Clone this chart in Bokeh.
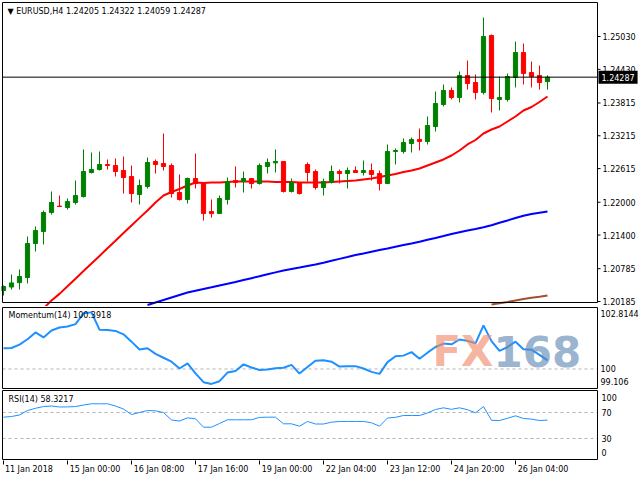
import numpy as np
from bokeh.plotting import figure
from bokeh.layouts import column
from bokeh.core.properties import value
from bokeh.models import (Range1d, LinearAxis, FixedTicker, Label,
                          ColumnDataSource, BoxAnnotation)
from bokeh.embed import file_html
from bokeh.resources import INLINE

# ---------------- data ----------------
symbol = "EURUSD,H4"
opens = [1.20386, 1.20450, 1.20530, 1.20624, 1.21246, 1.21465, 1.21812, 1.21930, 1.21903, 1.21995,
         1.22105, 1.22544, 1.22599, 1.22690, 1.22672, 1.22580, 1.22471, 1.22141, 1.22288, 1.22745,
         1.22708, 1.22672, 1.22178, 1.22050, 1.22434, 1.22361, 1.21830, 1.21793, 1.22050, 1.22397,
         1.22379, 1.22434, 1.22342, 1.22653, 1.22720, 1.22745, 1.22196, 1.22361, 1.22690, 1.22562,
         1.22269, 1.22361, 1.22562, 1.22525, 1.22580, 1.22544, 1.22580, 1.22525, 1.22342, 1.22928,
         1.22928, 1.23074, 1.23148, 1.23111, 1.23385, 1.23787, 1.24043, 1.23915, 1.24317, 1.24189,
         1.24006, 1.25048, 1.23879, 1.23879, 1.24281, 1.24738, 1.24372, 1.24317, 1.24205]
highs = [1.20478, 1.20679, 1.20771, 1.21374, 1.21557, 1.21848, 1.22196, 1.22123, 1.22068, 1.22397,
         1.22965, 1.22910, 1.22928, 1.22782, 1.22800, 1.22836, 1.22672, 1.22416, 1.22818, 1.22782,
         1.23257, 1.22708, 1.22507, 1.22452, 1.22891, 1.22370, 1.22050, 1.22123, 1.22452, 1.22653,
         1.22562, 1.22440, 1.22708, 1.22800, 1.22965, 1.22750, 1.22434, 1.22365, 1.22727, 1.22599,
         1.22434, 1.22672, 1.22599, 1.22635, 1.22653, 1.22763, 1.22708, 1.22580, 1.23056, 1.22983,
         1.23166, 1.23184, 1.23348, 1.23568, 1.24025, 1.24153, 1.24098, 1.24390, 1.24591, 1.24335,
         1.25377, 1.25067, 1.24299, 1.24354, 1.24939, 1.24902, 1.24573, 1.24500, 1.24322]
lows = [1.20295, 1.20405, 1.20405, 1.20515, 1.21100, 1.21228, 1.21775, 1.21915, 1.21866, 1.21958,
        1.22086, 1.22525, 1.22580, 1.22599, 1.22471, 1.22160, 1.21995, 1.21958, 1.22251, 1.22525,
        1.22580, 1.22086, 1.22031, 1.21976, 1.22251, 1.21665, 1.21720, 1.21785, 1.21958, 1.22269,
        1.22178, 1.22251, 1.22324, 1.22525, 1.22544, 1.22178, 1.22178, 1.22141, 1.22379, 1.22233,
        1.22123, 1.22342, 1.22342, 1.22251, 1.22540, 1.22489, 1.22397, 1.22214, 1.22335, 1.22690,
        1.22891, 1.22910, 1.22946, 1.23056, 1.23293, 1.23751, 1.23879, 1.23824, 1.24061, 1.23879,
        1.23970, 1.23641, 1.23677, 1.23842, 1.24098, 1.24153, 1.24098, 1.24061, 1.24059]
closes = [1.20460, 1.20525, 1.20643, 1.21246, 1.21484, 1.21812, 1.21995, 1.21922, 1.22013, 1.22123,
          1.22562, 1.22599, 1.22690, 1.22672, 1.22562, 1.22452, 1.22160, 1.22306, 1.22727, 1.22690,
          1.22653, 1.22160, 1.22050, 1.22434, 1.22342, 1.21793, 1.21793, 1.22068, 1.22379, 1.22361,
          1.22434, 1.22342, 1.22672, 1.22727, 1.22745, 1.22196, 1.22361, 1.22160, 1.22544, 1.22269,
          1.22379, 1.22562, 1.22525, 1.22580, 1.22544, 1.22580, 1.22507, 1.22342, 1.22928, 1.22946,
          1.23092, 1.23148, 1.23111, 1.23403, 1.23806, 1.24043, 1.23915, 1.24317, 1.24171, 1.24006,
          1.25030, 1.23897, 1.23915, 1.24299, 1.24738, 1.24354, 1.24299, 1.24189, 1.24287]

ma_red = [None] * 5 + [
    1.20058, 1.20204, 1.20325, 1.20464, 1.20603, 1.20742, 1.20880, 1.21019, 1.21158, 1.21297,
    1.21436, 1.21575, 1.21714, 1.21849, 1.21996, 1.22123, 1.22187, 1.22242, 1.22306, 1.22361,
    1.22352, 1.22361, 1.22361, 1.22370, 1.22379, 1.22379, 1.22379, 1.22379, 1.22379, 1.22370,
    1.22370, 1.22370, 1.22361, 1.22361, 1.22361, 1.22361, 1.22370, 1.22379, 1.22388, 1.22397,
    1.22416, 1.22434, 1.22461, 1.22489, 1.22516, 1.22553, 1.22580, 1.22617, 1.22672, 1.22727,
    1.22782, 1.22855, 1.22946, 1.23056, 1.23138, 1.23257, 1.23330, 1.23385, 1.23476, 1.23568,
    1.23677, 1.23741, 1.23833, 1.23933]
ma_blue = [None] * 18 + [
    1.20122, 1.20168, 1.20213, 1.20259, 1.20305, 1.20350, 1.20383, 1.20414, 1.20445, 1.20478,
    1.20509, 1.20542, 1.20577, 1.20612, 1.20647, 1.20683, 1.20718, 1.20752, 1.20780, 1.20807,
    1.20835, 1.20862, 1.20893, 1.20930, 1.20965, 1.20999, 1.21034, 1.21063, 1.21094, 1.21125,
    1.21155, 1.21186, 1.21217, 1.21246, 1.21279, 1.21314, 1.21348, 1.21383, 1.21420, 1.21451,
    1.21482, 1.21511, 1.21542, 1.21579, 1.21625, 1.21667, 1.21712, 1.21752, 1.21785, 1.21809,
    1.21831]
ma_brown = [None] * 61 + [1.20131, 1.20155, 1.20177, 1.20204, 1.20230, 1.20253, 1.20273, 1.20295]

momentum = [100.951, 100.960, 101.116, 101.362, 101.675, 101.443, 101.764, 101.898, 101.943, 102.055,
            102.546, 102.591, 101.800, 101.787, 101.742, 101.586, 101.251, 100.893, 100.951, 100.692,
            100.513, 100.334, 100.022, 100.254, 99.799, 99.396, 99.316, 99.441, 99.835, 99.910,
            100.210, 100.067, 99.955, 99.977, 100.031, 100.058, 100.187, 99.790, 100.089, 100.380,
            100.402, 100.334, 100.111, 100.120, 100.129, 100.022, 99.866, 99.776, 100.312, 100.580,
            100.611, 100.772, 100.468, 100.746, 101.004, 101.161, 101.130, 101.349, 101.286, 101.175,
            101.997, 101.273, 100.826, 101.004, 101.251, 100.907, 100.880, 100.647, 100.392]
rsi = [62.8, 63.8, 66.2, 73.1, 76.5, 79.2, 80.0, 78.5, 78.6, 79.2,
       81.5, 83.4, 83.4, 83.4, 80.0, 75.4, 66.9, 70.0, 73.1, 72.6,
       70.0, 58.5, 56.9, 61.8, 60.3, 47.4, 47.4, 53.1, 58.8, 58.8,
       58.8, 58.8, 62.5, 62.8, 62.8, 52.6, 52.6, 48.9, 56.2, 52.3,
       52.3, 55.1, 56.2, 56.2, 56.2, 56.2, 54.2, 48.9, 61.5, 62.6,
       65.4, 65.4, 65.4, 69.2, 74.6, 77.2, 74.9, 77.2, 74.3, 69.5,
       79.2, 58.0, 57.7, 61.1, 64.9, 60.8, 59.8, 57.7, 58.3]

price_ticks = [1.20185, 1.20785, 1.21400, 1.22000, 1.22615, 1.23215, 1.23815, 1.24430, 1.25030]
mom_label_text = ["102.8144", "100", "99.106"]
rsi_levels = [70, 30]
rsi_label_text = ["100", "70", "30", "0"]
momentum_title = "Momentum(14) 100.3918"
rsi_title = "RSI(14) 58.3217"
date_tick_bars = [0, 8, 16, 24, 32, 40, 48, 56, 64]
date_tick_labels = ["11 Jan 2018", "15 Jan 00:00", "16 Jan 08:00", "17 Jan 16:00", "19 Jan 00:00",
                    "22 Jan 04:00", "23 Jan 12:00", "24 Jan 20:00", "26 Jan 04:00"]

# ---------------- layout constants ----------------
FONT = "DejaVu Sans"
FS = "8px"
TOTAL_W = 640
PX_PER_BAR = 8.0
UP, DOWN = "#008000", "#FF0000"
GRID_GREY = "#B4B4B4"

n = len(closes)
xs = list(range(n))

# every panel: drawing frame 1..640 px wide; the visible chart box is 2..597 px
box_left, box_right = -0.125, 74.25
x_full = Range1d(box_left - 1 / PX_PER_BAR, box_right + (TOTAL_W - 597) / PX_PER_BAR)

# price panel: frame 1..306 px, box 2..302 px
box_lo, box_hi = 1.20167, 1.25652
ppp = (box_hi - box_lo) / 300.0
y1_range = Range1d(box_lo - 4 * ppp, box_hi + 1 * ppp)

# momentum panel: frame 306..389 px, box 307..388 px
mom_lo, mom_hi = 99.106, 102.8144
ppm = (mom_hi - mom_lo) / 81.0
y2_range = Range1d(mom_lo - ppm, mom_hi + ppm)

# RSI panel: frame 389..460 px, box 390..459 px
rsi_lo, rsi_hi = -2.31, 103.85
ppr = (rsi_hi - rsi_lo) / 69.0
y3_range = Range1d(rsi_lo - ppr, rsi_hi + ppr)


def make_fig(yr, top, frame_h, bottom, lo, hi):
    p = figure(width=TOTAL_W, height=top + frame_h + bottom, x_range=x_full, y_range=yr,
               output_backend="svg", toolbar_location=None,
               x_axis_location=None, y_axis_location=None,
               min_border_left=1, min_border_right=0,
               min_border_top=top, min_border_bottom=bottom)
    p.grid.visible = False
    p.outline_line_color = None
    p.background_fill_color = "white"
    p.border_fill_color = "white"
    p.add_layout(BoxAnnotation(left=box_left, right=box_right, bottom=lo, top=hi,
                               fill_color=None, line_color="black", line_width=1, line_alpha=1.0))
    return p


def style_axis(ax, tick_out=0, standoff=2):
    ax.major_label_text_font = FONT
    ax.major_label_text_font_size = FS
    ax.major_label_text_color = "black"
    ax.major_tick_out = tick_out
    ax.major_tick_in = 0
    ax.minor_tick_out = 0
    ax.minor_tick_in = 0
    ax.major_tick_line_color = "black"
    ax.axis_line_color = None
    ax.major_label_standoff = standoff


def corner_label(p, y, text, dx, dy):
    p.add_layout(Label(x=box_left, y=y, x_offset=dx, y_offset=-dy,
                       text=text, text_font=FONT, text_font_size=FS, text_color="black",
                       text_baseline="top", text_align="left"))


def level_lines(p, levels, color, dash):
    p.segment(x0=[box_left] * len(levels), y0=levels, x1=[box_right] * len(levels), y1=levels,
              line_color=color, line_width=1, line_dash=dash)


def right_scale(p, ticks, labels, standoff):
    ax = LinearAxis(fixed_location=box_right, ticker=FixedTicker(ticks=ticks),
                    major_label_overrides=dict(zip(ticks, labels)))
    style_axis(ax, tick_out=0, standoff=standoff)
    p.add_layout(ax, "right")


# ---------------- main price panel ----------------
p1 = make_fig(y1_range, 1, 305, 0, box_lo, box_hi)

colors = [UP if c >= o else DOWN for o, c in zip(opens, closes)]
src = ColumnDataSource(dict(x=xs, open=opens, high=highs, low=lows, close=closes,
                            top=[max(o, c) for o, c in zip(opens, closes)],
                            bottom=[min(o, c) for o, c in zip(opens, closes)],
                            color=colors))
p1.line(xs, np.array(ma_brown, dtype=float), line_color="#A0522D", line_width=2)
p1.line(xs, np.array(ma_blue, dtype=float), line_color="#0000FF", line_width=2)
p1.line(xs, np.array(ma_red, dtype=float), line_color="#FF0000", line_width=2)
p1.segment(x0="x", y0="low", x1="x", y1="high", line_color="color", line_width=1, source=src)
p1.vbar(x="x", width=0.52, top="top", bottom="bottom", fill_color="color",
        line_color="color", line_width=1, source=src)
level_lines(p1, [closes[-1]], "black", "solid")

# price scale at the right edge of the chart box: tick marks and labels
scale_src = ColumnDataSource(dict(x=[box_right] * len(price_ticks), y=price_ticks,
                                  label=[f"{t:.5f}" for t in price_ticks]))
p1.ray(x="x", y="y", length=3, length_units="screen", angle=0, line_color="black",
       line_width=1, source=scale_src)
p1.text(x="x", y="y", text="label", x_offset=5, text_font=value(FONT), text_font_size=FS,
        text_color="black", text_align="left", text_baseline="middle", source=scale_src)

# current-price tag
p1.add_layout(Label(x=box_right, y=closes[-1], x_offset=1, text=f"{closes[-1]:.5f}",
                    text_font=FONT, text_font_size=FS, text_color="white",
                    text_baseline="middle", text_align="left",
                    background_fill_color="black", padding=3))

corner_label(p1, box_hi,
             f"\u25BC {symbol}  {opens[-1]:.5f} {highs[-1]:.5f} {lows[-1]:.5f} {closes[-1]:.5f}", 5, 4)

# ---------------- momentum panel ----------------
p2 = make_fig(y2_range, 0, 83, 0, mom_lo, mom_hi)
level_lines(p2, [100.0], GRID_GREY, "3 3")
p2.line(xs, momentum, line_color="#1E90FF", line_width=2)
mom_ticks = [mom_hi - 6 * ppm, 100.0, mom_lo + 7 * ppm]
right_scale(p2, mom_ticks, mom_label_text, 3)
corner_label(p2, mom_hi, momentum_title, 6, 3)
# watermark
p2.add_layout(Label(x=61.25, y=100.78, text="FX", text_font=FONT, text_font_style="bold",
                    text_font_size="42px", text_color="#F08A68", text_alpha=0.65,
                    text_align="right", text_baseline="middle"))
p2.add_layout(Label(x=61.25, y=100.78, text="168", text_font=FONT, text_font_style="bold",
                    text_font_size="42px", text_color="#5F8AB5", text_alpha=0.65,
                    text_align="left", text_baseline="middle"))

# ---------------- RSI panel ----------------
p3 = make_fig(y3_range, 0, 71, 20, rsi_lo, rsi_hi)
level_lines(p3, rsi_levels, GRID_GREY, "3 3")
p3.line(xs, rsi, line_color="#1E90FF", line_width=1)
rsi_ticks = [rsi_hi - 7 * ppr, 70.0, 30.0, rsi_lo + 7 * ppr]
right_scale(p3, rsi_ticks, rsi_label_text, 4)
corner_label(p3, rsi_hi, rsi_title, 6, 4)

# time axis: labels start at their tick, tick marks drawn as minor ticks
label_pos = [b + (4.25 * len(t) / 2 + 2) / PX_PER_BAR for b, t in zip(date_tick_bars, date_tick_labels)]
ax_t = LinearAxis(ticker=FixedTicker(ticks=label_pos, minor_ticks=date_tick_bars),
                  major_label_overrides=dict(zip(label_pos, date_tick_labels)))
style_axis(ax_t, tick_out=0, standoff=0)
ax_t.minor_tick_out = 4
ax_t.minor_tick_line_color = "black"
p3.add_layout(ax_t, "below")

layout = column(p1, p2, p3, spacing=0)
open("out.html", "w").write(file_html(layout, INLINE))
